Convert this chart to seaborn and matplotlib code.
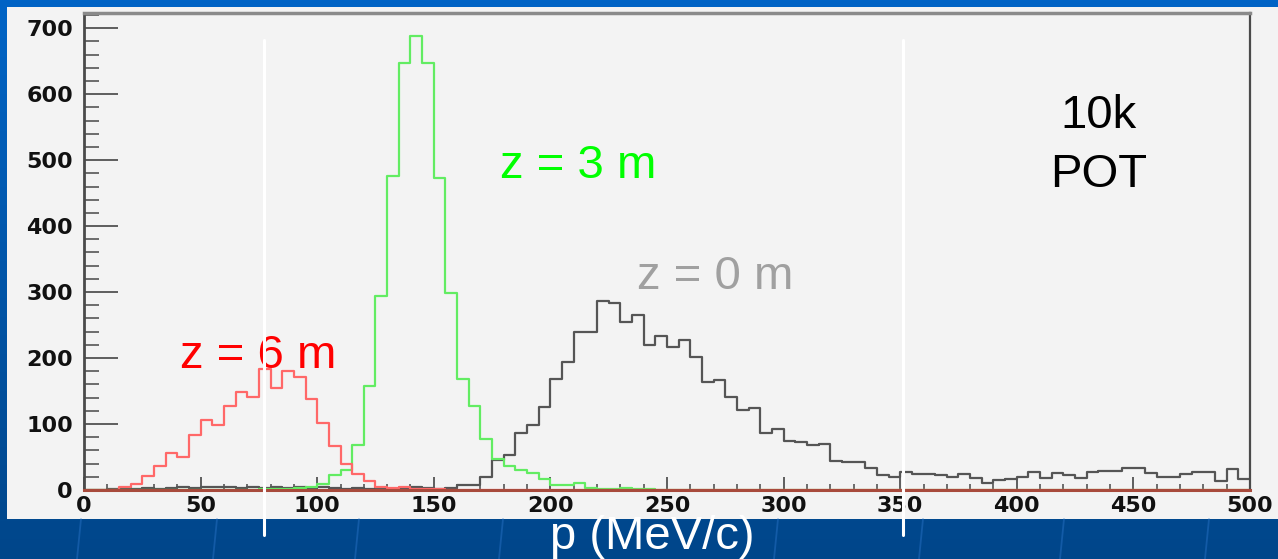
import numpy as np
import pandas as pd
import matplotlib
matplotlib.use("Agg")
import matplotlib.pyplot as plt
from matplotlib.patches import Rectangle
from matplotlib.ticker import MultipleLocator
import seaborn as sns

# Momentum binning (MeV/c), 5 MeV/c per bin
bin_edges = np.arange(0, 505, 5)

# Muon momentum spectra, 10k POT, at three positions along the beamline
counts_z6 = [
    0, 0, 0, 4, 9, 21, 36, 56, 50, 83,
    106, 99, 128, 149, 141, 184, 154, 181, 172, 138,
    101, 66, 40, 25, 13, 4, 3, 4, 2, 1,
    1, 0, 0, 0, 0, 0, 0, 0, 0, 0,
    0, 0, 0, 0, 0, 0, 0, 0, 0, 0,
    0, 0, 0, 0, 0, 0, 0, 0, 0, 0,
    0, 0, 0, 0, 0, 0, 0, 0, 0, 0,
    0, 0, 0, 0, 0, 0, 0, 0, 0, 0,
    0, 0, 0, 0, 0, 0, 0, 0, 0, 0,
    0, 0, 0, 0, 0, 0, 0, 0, 0, 0,
]
counts_z3 = [
    0, 0, 0, 0, 0, 0, 0, 0, 0, 0,
    0, 0, 0, 0, 0, 1, 2, 2, 3, 4,
    9, 22, 30, 68, 157, 294, 476, 647, 688, 647,
    473, 298, 168, 127, 77, 47, 36, 31, 26, 17,
    7, 7, 11, 3, 2, 2, 3, 2, 2, 0,
    0, 0, 0, 0, 0, 0, 0, 0, 0, 0,
    0, 0, 0, 0, 0, 0, 0, 0, 0, 0,
    0, 0, 0, 0, 0, 0, 0, 0, 0, 0,
    0, 0, 0, 0, 0, 0, 0, 0, 0, 0,
    0, 0, 0, 0, 0, 0, 0, 0, 0, 0,
]
counts_z0 = [
    0, 0, 1, 2, 2, 3, 2, 3, 4, 3,
    4, 5, 4, 3, 4, 3, 4, 3, 5, 3,
    4, 3, 2, 3, 2, 3, 2, 3, 4, 3,
    2, 3, 7, 7, 20, 45, 53, 87, 99, 126,
    168, 194, 239, 240, 287, 284, 255, 266, 220, 233,
    216, 228, 202, 164, 166, 141, 121, 125, 87, 93,
    75, 72, 68, 70, 44, 42, 43, 33, 23, 19,
    28, 24, 25, 23, 19, 25, 18, 11, 15, 17,
    19, 28, 18, 26, 23, 18, 28, 29, 29, 33,
    33, 26, 20, 20, 25, 27, 28, 14, 32, 16,
]

x_ticks = [0, 50, 100, 150, 200, 250, 300, 350, 400, 450, 500]
y_ticks = [0, 100, 200, 300, 400, 500, 600, 700]
cut_lines = [77, 351]   # momentum window markers

sns.set_theme(style="white")
plt.rcParams["font.family"] = ["Liberation Sans", "DejaVu Sans"]

W, H = 1278, 559
fig = plt.figure(figsize=(W / 100, H / 100), dpi=100)

# Slide backdrop: blue vertical gradient with faint template strokes
bg = fig.add_axes([0, 0, 1, 1], zorder=-10)
top_c = np.array([0x00, 0x64, 0xC6]) / 255
bot_c = np.array([0x00, 0x46, 0x8A]) / 255
t = np.linspace(0, 1, 256)[:, None]
grad = (top_c * (1 - t) + bot_c * t)[:, None, :]
bg.imshow(grad, aspect="auto", extent=[0, 1, 0, 1], origin="upper")
for xp in [77, 213, 355, 499, 774, 919, 1060, 1205]:
    bg.plot([xp / W, (xp + 4) / W], [0, 40 / H], color="#2b74c8", lw=1.3, alpha=0.45)
bg.add_patch(Rectangle((7 / W, 40 / H), 1 - 7 / W, 512 / H,
                       facecolor="#f3f3f3", edgecolor="none"))
bg.set_xlim(0, 1)
bg.set_ylim(0, 1)
bg.set_axis_off()

# Histogram frame
ax = fig.add_axes([84 / W, 69 / H, 1166 / W, 477 / H])
ax.set_facecolor("#f3f3f3")

centers = (bin_edges[:-1] + bin_edges[1:]) / 2
for counts, color in [(counts_z0, "#555555"),
                      (counts_z3, "#62ec62"),
                      (counts_z6, "#ff6868")]:
    df = pd.DataFrame({"p": centers, "n": np.asarray(counts, dtype=float)})
    sns.histplot(data=df, x="p", weights="n", bins=list(bin_edges),
                 element="step", fill=False, color=color, linewidth=1.6, ax=ax)

ax.set_xlim(0, 500)
ax.set_ylim(0, 723)
ax.set_xticks(x_ticks)
ax.set_yticks(y_ticks)
ax.xaxis.set_minor_locator(MultipleLocator(10))
ax.yaxis.set_minor_locator(MultipleLocator(20))

ax.tick_params(axis="y", which="major", direction="in", length=24.5, width=1.2,
               color="#444444", pad=8, labelsize=16, left=True)
ax.tick_params(axis="y", which="minor", direction="in", length=11, width=1.2,
               color="#555555", left=True)
ax.tick_params(axis="x", which="major", direction="in", length=9.5, width=1.2,
               color="#444444", pad=4, labelsize=16, bottom=True)
ax.tick_params(axis="x", which="minor", direction="in", length=4.5, width=1.2,
               color="#555555", bottom=True)
for lbl in ax.get_xticklabels() + ax.get_yticklabels():
    lbl.set_fontfamily("DejaVu Sans")
    lbl.set_fontweight("bold")
    lbl.set_color("#111111")

ax.spines["left"].set(color="#4a4a4a", linewidth=2.0)
ax.spines["top"].set(color="#8a8a8a", linewidth=2.5)
ax.spines["right"].set(color="#4a4a4a", linewidth=1.6)
ax.spines["bottom"].set(color="#a84a3c", linewidth=2.2)

ax.set_ylabel("")
ax.set_xlabel("p (MeV/c)", color="white", fontsize=34)
ax.xaxis.label.set_va("baseline")
ax.xaxis.set_label_coords((652 - 84) / 1166, (490 - 549) / 477)

# Curve labels and statistics note
ax.text(178.5, 473, "z = 3 m", color="#00ff00", fontsize=34, ha="left", va="baseline")
ax.text(237, 305, "z = 0 m", color="#a0a0a0", fontsize=34, ha="left", va="baseline")
ax.text(41, 185, "z = 6 m", color="#ff0000", fontsize=34, ha="left", va="baseline")
ax.text(435, 548, "10k", color="black", fontsize=34, ha="center", va="baseline")
ax.text(435, 459, "POT", color="black", fontsize=34, ha="center", va="baseline")

# Momentum window markers
for xc in cut_lines:
    ax.axvline(xc, ymin=-0.094, ymax=0.943, color="white", lw=2.2,
               clip_on=False, zorder=6)

fig.savefig("out.png", dpi=100)
